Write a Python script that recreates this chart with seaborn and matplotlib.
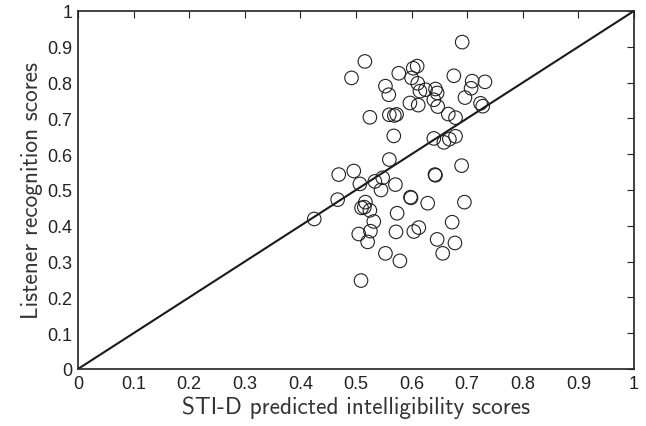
import numpy as np
import pandas as pd
import matplotlib
matplotlib.use("Agg")
import matplotlib.pyplot as plt
import seaborn as sns

# STI-D predicted scores (x) and listener recognition scores (y)
sti_d = [0.691, 0.516, 0.492, 0.577, 0.603, 0.610, 0.600, 0.553, 0.559, 0.611,
         0.615, 0.625, 0.643, 0.646, 0.640, 0.647, 0.676, 0.709, 0.707, 0.732,
         0.696, 0.724, 0.728, 0.597, 0.612, 0.666, 0.679, 0.525, 0.560, 0.569,
         0.573, 0.568, 0.640, 0.658, 0.668, 0.679, 0.560,
         0.469, 0.496, 0.507, 0.534, 0.548, 0.545, 0.571, 0.642, 0.643, 0.690,
         0.467, 0.425, 0.517, 0.510, 0.515, 0.525, 0.598, 0.599, 0.629, 0.695,
         0.574, 0.532, 0.673, 0.505, 0.526, 0.572, 0.604, 0.613, 0.521, 0.646,
         0.678, 0.553, 0.579, 0.656, 0.509]
listener = [0.913, 0.859, 0.813, 0.826, 0.840, 0.846, 0.813, 0.790, 0.766, 0.798,
            0.776, 0.780, 0.782, 0.771, 0.752, 0.733, 0.819, 0.804, 0.784, 0.802,
            0.758, 0.742, 0.734, 0.743, 0.737, 0.712, 0.702, 0.703, 0.710, 0.708,
            0.711, 0.651, 0.644, 0.633, 0.642, 0.650, 0.585,
            0.543, 0.553, 0.517, 0.524, 0.534, 0.500, 0.515, 0.543, 0.541, 0.568,
            0.473, 0.419, 0.466, 0.450, 0.452, 0.443, 0.480, 0.478, 0.463, 0.466,
            0.435, 0.412, 0.410, 0.377, 0.385, 0.383, 0.384, 0.395, 0.355, 0.362,
            0.352, 0.323, 0.302, 0.323, 0.247]

ref_line = [0, 1]
ticks = [0, 0.1, 0.2, 0.3, 0.4, 0.5, 0.6, 0.7, 0.8, 0.9, 1]
tick_labels = ["0", "0.1", "0.2", "0.3", "0.4", "0.5", "0.6", "0.7", "0.8", "0.9", "1"]

df = pd.DataFrame({"sti": sti_d, "score": listener})

sns.set_style("white")
plt.rcParams["font.family"] = ["Liberation Sans", "DejaVu Sans"]

fig = plt.figure(figsize=(6.46, 4.27), dpi=100)
ax = fig.add_axes([0.1207, 0.1335, 0.8607, 0.8385])

sns.scatterplot(data=df, x="sti", y="score", ax=ax, marker="o", s=95,
                facecolors="none", edgecolor="#222222", linewidth=0.8, zorder=3)
sns.lineplot(x=ref_line, y=ref_line, ax=ax, color="#1a1a1a", linewidth=1.5, zorder=2)

ax.set_xlim(0, 1)
ax.set_ylim(0, 1)
ax.set_xticks(ticks)
ax.set_yticks(ticks)
ax.set_xticklabels(tick_labels)
ax.set_yticklabels(tick_labels)
ax.tick_params(direction="in", top=True, right=True, length=5, width=0.8,
               labelsize=13, colors="#222222", pad=4)
for s in ax.spines.values():
    s.set_color("#222222")
    s.set_linewidth(1.2)

ax.set_xlabel("STI-D predicted intelligibility scores", family="cmss10",
              fontsize=16.8, color="#333333", labelpad=3)
ax.set_ylabel("Listener recognition scores", family="cmss10",
              fontsize=16.8, color="#333333", labelpad=3)

fig.savefig("out.png", dpi=100)
